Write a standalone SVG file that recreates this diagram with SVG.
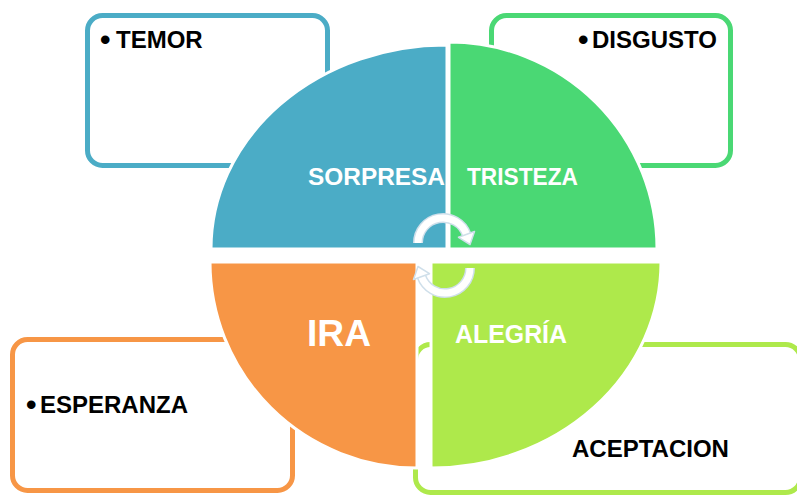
<svg xmlns="http://www.w3.org/2000/svg" width="797" height="495" viewBox="0 0 797 495">
<style>
.box{fill:#fff;stroke-width:5}
.sec{stroke:#fff;stroke-width:3}
.t{font-family:"Liberation Sans",Arial,sans-serif;font-weight:bold;font-size:24px;fill:#000}
.b{font-size:30px}
.w{font-family:"Liberation Sans",Arial,sans-serif;font-weight:bold;fill:#fff}
.arcO{fill:none;stroke:#CFDFEA;stroke-width:10}
.arcI{fill:none;stroke:#fff;stroke-width:7}
.head{fill:#fff;stroke:#CFDFEA;stroke-width:1.5;stroke-linejoin:round}
</style>
<rect width="797" height="495" fill="#fff"/>
<g id="temor">
<rect class="box" x="87.5" y="15.5" width="240" height="150" rx="15" stroke="#4BACC6"/>
<text class="t" y="48"><tspan class="b" x="100" dy="2">•</tspan><tspan x="116" dy="-2">TEMOR</tspan></text>
</g>
<g id="disgusto">
<rect class="box" x="491.5" y="15.5" width="239" height="150" rx="15" stroke="#4AD874"/>
<text class="t" y="48"><tspan class="b" x="578" dy="2">•</tspan><tspan x="592" dy="-2">DISGUSTO</tspan></text>
</g>
<g id="esperanza">
<rect class="box" x="12.5" y="339.5" width="280" height="151" rx="15" stroke="#F79646"/>
<text class="t" y="413"><tspan class="b" x="26" dy="2">•</tspan><tspan x="40" dy="-2">ESPERANZA</tspan></text>
</g>
<g id="aceptacion">
<rect class="box" x="415.5" y="344.5" width="385" height="148" rx="15" stroke="#AEE94B"/>
<text class="t" x="572" y="457" font-size="25">ACEPTACION</text>
</g>
<g id="sorpresa">
<path class="sec" d="M447 249 L211 249 A235 204 0 0 1 447 45 Z" fill="#4BACC6"/>
<text class="w" x="308" y="185" font-size="24" textLength="137" lengthAdjust="spacingAndGlyphs">SORPRESA</text>
</g>
<g id="tristeza">
<path class="sec" d="M449 249 L449 42 A208 207 0 0 1 657 249 Z" fill="#4AD874"/>
<text class="w" x="467" y="185" font-size="24" textLength="111" lengthAdjust="spacingAndGlyphs">TRISTEZA</text>
</g>
<g id="ira">
<path class="sec" d="M417 262 L417 468 A207 206 0 0 1 210 262 Z" fill="#F79646"/>
<text class="w" x="307" y="346" font-size="36" textLength="64" lengthAdjust="spacingAndGlyphs">IRA</text>
</g>
<g id="alegria">
<path class="sec" d="M431 262 L661 262 A230 206 0 0 1 431 468 Z" fill="#AEE94B"/>
<text class="w" x="455" y="343" font-size="25" textLength="112" lengthAdjust="spacingAndGlyphs">ALEGRÍA</text>
</g>
<g id="connectors">
<path class="arcO" d="M418 243 A25 25 0 0 1 466.5 234.4"/>
<path class="arcI" d="M418 243 A25 25 0 0 1 466.5 234.4"/>
<polygon class="head" points="474.5,231.5 458.5,237.3 470,244.5"/>
<path class="arcO" d="M470 268 A25 25 0 0 1 421.5 276.6"/>
<path class="arcI" d="M470 268 A25 25 0 0 1 421.5 276.6"/>
<polygon class="head" points="413.5,279.5 429.5,273.7 418,266.5"/>
</g>
</svg>
